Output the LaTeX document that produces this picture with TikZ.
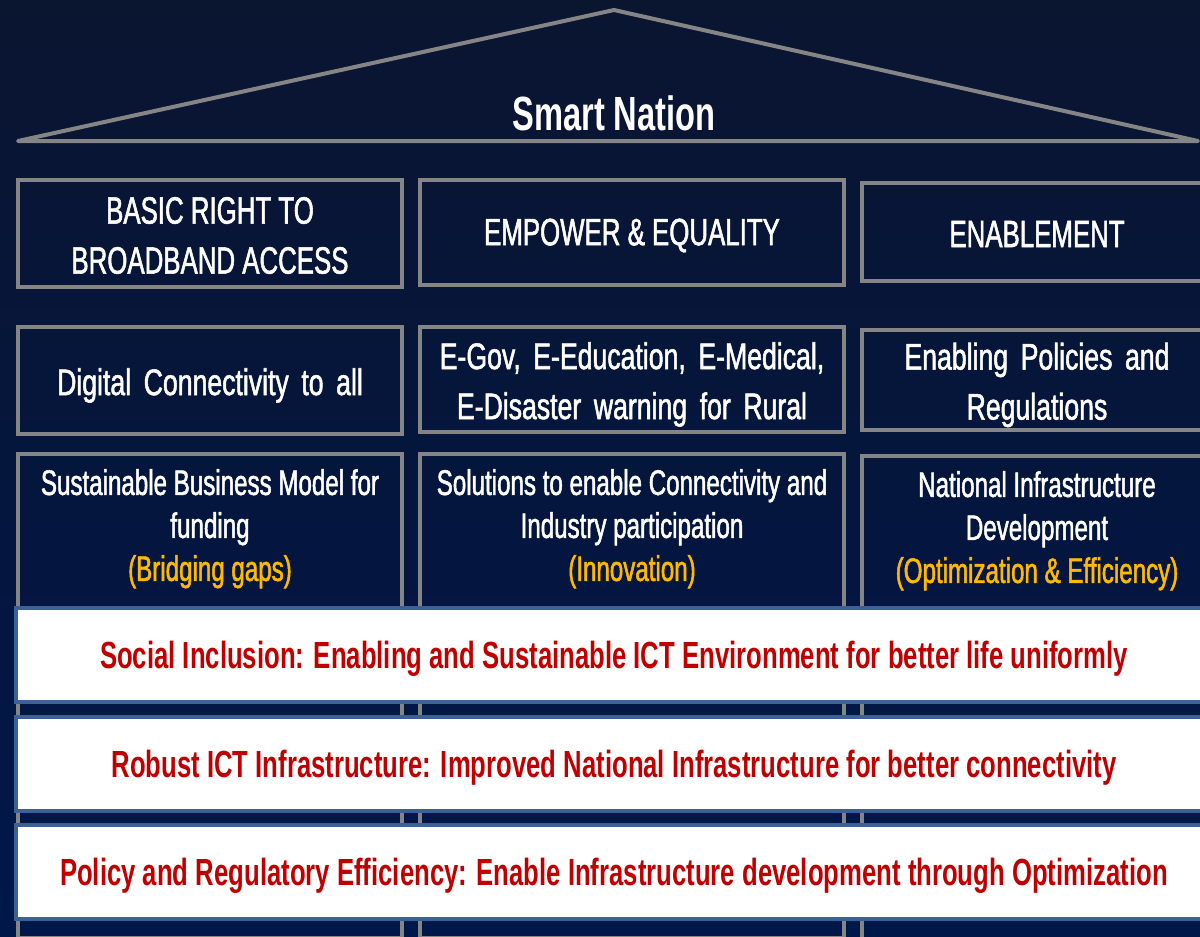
\documentclass[tikz,border=0pt]{standalone}
\usepackage{fontspec}
\setmainfont{Liberation Sans}[FakeStretch=0.68]
\newfontfamily\pillarfont{Liberation Sans}[FakeStretch=0.68, FakeBold=1.4]
\newfontfamily\widefont{Liberation Sans}[FakeStretch=0.72, FakeBold=1.4, WordSpace=1.7]
\usetikzlibrary{positioning}

\definecolor{bgtop}{HTML}{0A1530}
\definecolor{bgbot}{HTML}{00174A}
\definecolor{pillargray}{HTML}{858585}
\definecolor{bandblue}{HTML}{3D6194}
\definecolor{goldtext}{HTML}{FFB900}
\definecolor{redtext}{HTML}{C00000}

\tikzset{
  pillar/.style={draw=pillargray, line width=4pt, inner sep=0pt, text=white, align=center},
  headtext/.style={font=\pillarfont\fontsize{38}{50}\selectfont},
  pilltext/.style={font=\widefont\fontsize{37}{50}\selectfont},
  basetext/.style={text=white, align=center, inner sep=0pt, font=\pillarfont\fontsize{35.5}{43}\selectfont},
  band/.style={draw=bandblue, line width=4pt, fill=white, inner sep=0pt, text=redtext,
    minimum width=1196, minimum height=94, font=\bfseries\fontsize{37.8}{44}\selectfont},
  roof/.style={draw=pillargray, line width=4pt, line join=round},
  gold/.style={text=goldtext}
}

\begin{document}
\begin{tikzpicture}[x=1pt,y=1pt,yscale=-1]
\useasboundingbox (0,0) rectangle (1200,937);
\clip (0,0) rectangle (1200,937);
\fill[top color=bgtop, bottom color=bgbot] (0,0) rectangle (1200,937);

% roof
\coordinate (apex) at (614,10);
\coordinate (eaveL) at (18,141);
\coordinate (eaveR) at (1198,141);
\draw[roof] (eaveL) -- (apex) -- (eaveR) -- cycle;
\node[text=white, font=\bfseries\fontsize{48}{58}\selectfont] (nation) at (614,113) {Smart Nation};

% base pillars (drawn first, bands go over them)
\node[pillar, minimum width=384, minimum height=484, anchor=north] (fundA) at (210,452) {};
\node[pillar, minimum width=424, minimum height=484, anchor=north] (fundB) at (632,452) {};
\node[pillar, minimum width=350, minimum height=484, anchor=north] (fundC) at (1037,454) {};
\node[basetext, anchor=north] (fundAtext) at ([yshift=17]fundA.north)
  {Sustainable Business Model for\\funding\\\textcolor{goldtext}{(Bridging gaps)}};
\node[basetext, anchor=north] (fundBtext) at ([yshift=17]fundB.north)
  {Solutions to enable Connectivity and\\Industry participation\\\textcolor{goldtext}{(Innovation)}};
\node[basetext, anchor=north] (fundCtext) at ([yshift=17]fundC.north)
  {National Infrastructure\\Development\\\textcolor{goldtext}{(Optimization \& Efficiency)}};

% headings
\node[pillar, minimum width=384, minimum height=107] (basic) at (210,233.5) {};
\node[pillar, minimum width=424, minimum height=105] (empower) at (632,232.5) {};
\node[pillar, minimum width=350, minimum height=98] (enable) at (1037,232) {};
\node[text=white, align=center, headtext] at ([yshift=2]basic.center) {BASIC RIGHT TO\\BROADBAND ACCESS};
\node[text=white, headtext] at ([yshift=3]empower.center) {EMPOWER \& EQUALITY};
\node[text=white, headtext] at ([yshift=2]enable.center) {ENABLEMENT};

% second row
\node[pillar, minimum width=384, minimum height=107] (digital) at (210,380.5) {};
\node[pillar, minimum width=424, minimum height=105] (egov) at (632,379.5) {};
\node[pillar, minimum width=350, minimum height=100] (policy) at (1037,380) {};
\node[text=white, pilltext] at ([yshift=5]digital.center) {Digital Connectivity to all};
\node[text=white, align=center, pilltext] at ([yshift=5]egov.center)
  {E-Gov, E-Education, E-Medical,\\E-Disaster warning for Rural};
\node[text=white, align=center, pilltext] at ([yshift=5]policy.center)
  {Enabling Policies and\\Regulations};

% bands
\node[band] (social) at (614,655) {};
\node[band] (robust) at (614,763.5) {};
\node[band] (regul) at (614,871.5) {};
\node[text=redtext, font=\bfseries\fontsize{37.8}{44}\selectfont] at ([yshift=4]social.center)
  {Social Inclusion: Enabling and Sustainable ICT Environment for better life uniformly};
\node[text=redtext, font=\bfseries\fontsize{37.8}{44}\selectfont] at ([yshift=4]robust.center)
  {Robust ICT Infrastructure: Improved National Infrastructure for better connectivity};
\node[text=redtext, font=\bfseries\fontsize{37.8}{44}\selectfont] at ([yshift=4]regul.center)
  {Policy and Regulatory Efficiency: Enable Infrastructure development through Optimization};

\end{tikzpicture}
\end{document}
